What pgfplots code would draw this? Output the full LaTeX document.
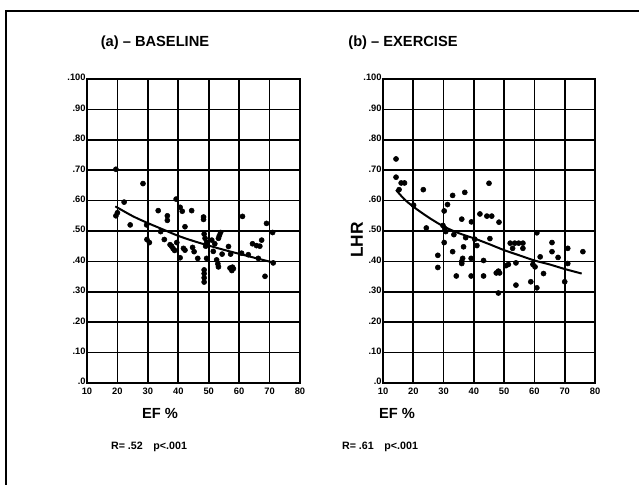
\documentclass[border=0pt]{standalone}
\usepackage{pgfplots}
\pgfplotsset{compat=1.18}
\usepackage{fontspec}
\setmainfont{Liberation Sans}

% left panel: baseline
\pgfplotstableread{
ef lhr
19.5 0.703
28.4 0.656
22.2 0.595
19.5 0.550
20.0 0.560
24.2 0.520
29.6 0.520
33.4 0.567
36.4 0.550
36.4 0.535
39.3 0.605
40.6 0.578
41.3 0.565
44.4 0.567
42.2 0.514
34.2 0.498
48.3 0.546
48.3 0.538
48.5 0.490
53.9 0.495
53.5 0.485
53.2 0.476
61.1 0.548
69.0 0.525
71.0 0.495
29.7 0.472
30.5 0.462
35.4 0.472
37.3 0.455
37.8 0.450
38.3 0.442
38.8 0.436
39.5 0.462
40.6 0.412
41.7 0.443
42.2 0.437
44.7 0.446
45.2 0.432
46.4 0.410
48.8 0.476
49.0 0.450
49.3 0.463
48.5 0.372
48.5 0.360
48.5 0.346
48.5 0.332
49.3 0.410
51.5 0.433
52.6 0.405
53.0 0.392
53.2 0.382
51.0 0.470
52.0 0.458
54.4 0.424
56.5 0.449
57.2 0.424
57.0 0.378
57.8 0.381
58.1 0.376
57.6 0.370
60.8 0.427
63.0 0.422
64.4 0.458
65.7 0.452
66.8 0.450
67.4 0.470
66.3 0.410
68.5 0.351
71.2 0.395
}\baseline

% right panel: exercise
\pgfplotstableread{
ef lhr
14.3 0.737
14.3 0.677
16.0 0.658
17.1 0.658
15.3 0.636
23.3 0.636
20.1 0.585
33.0 0.617
37.0 0.627
45.0 0.657
31.3 0.587
30.2 0.566
36.0 0.539
39.2 0.530
42.0 0.556
44.3 0.549
45.9 0.549
48.3 0.529
24.3 0.510
29.8 0.518
30.4 0.508
30.7 0.498
33.4 0.488
37.3 0.478
40.3 0.473
45.3 0.475
30.2 0.462
33.0 0.432
28.1 0.420
28.1 0.380
34.2 0.352
36.0 0.400
36.0 0.393
36.3 0.410
36.6 0.448
39.1 0.410
39.1 0.352
41.0 0.452
43.2 0.403
43.2 0.352
47.4 0.362
48.1 0.368
48.5 0.362
48.1 0.296
50.6 0.386
51.4 0.390
52.0 0.460
53.5 0.460
54.8 0.460
56.2 0.460
52.8 0.443
56.2 0.443
53.9 0.395
53.9 0.322
58.8 0.333
59.5 0.390
60.2 0.382
60.8 0.313
60.8 0.494
61.9 0.415
63.0 0.360
65.8 0.462
65.8 0.432
67.8 0.413
70.0 0.333
71.0 0.443
71.0 0.393
76.0 0.432
}\exercise

\pgfplotsset{
  panel/.style={
    scale only axis,
    anchor=south west,
    xmin=10, xmax=80, ymin=0, ymax=1,
    xtick={10,20,...,80},
    ytick={0,0.1,0.2,0.3,0.4,0.5,0.6,0.7,0.8,0.9,1},
    yticklabels={.0,.10,.20,.30,.40,.50,.60,.70,.80,.90,.100},
    xmajorgrids, ymajorgrids,
    grid style={black, line width=1.2pt},
    major grid style={black, line width=1.2pt},
    axis line style={line width=1.3pt},
    major tick length=0pt,
    tick label style={font=\fontsize{7}{8}\selectfont\bfseries},
    /pgf/number format/assume math mode=true,
    xticklabel style={yshift=-0.5pt},
    yticklabel style={xshift=2.5pt, yshift=1pt},
  },
  dots/.style={only marks, mark=*, mark size=1.9pt, black},
  fit/.style={no marks, black, line width=1.5pt, smooth},
}

\begin{document}
\begin{tikzpicture}
\path[use as bounding box] (0pt,0pt) rectangle (479.25pt,363.75pt);

\begin{axis}[panel, at={(65.25pt,76.5pt)}, width=159.75pt, height=228pt]
\addplot[dots] table[x=ef, y=lhr] {\baseline};
\addplot[fit] coordinates {(19.3,0.581)(25,0.549)(30,0.526)(35,0.505)(40,0.484)(45,0.467)(50,0.452)(55,0.438)(60,0.425)(65,0.412)(71,0.397)};
\end{axis}

\begin{axis}[panel, at={(287.25pt,76.5pt)}, width=159pt, height=228pt]
\addplot[dots] table[x=ef, y=lhr] {\exercise};
\addplot[fit] coordinates {(14.3,0.635)(17,0.605)(20,0.580)(25,0.545)(30,0.515)(35,0.493)(40,0.476)(45,0.457)(50,0.437)(55,0.420)(60,0.403)(65,0.390)(70,0.375)(75.6,0.360)};
\end{axis}

\begin{scope}[x=0.75pt,y=0.75pt]
\draw[line width=1.1pt] (6,0) -- (6,474) -- (639,474);
\node[font=\fontsize{11}{13}\selectfont\bfseries] at (155,442) {(a) -- BASELINE};
\node[font=\fontsize{11}{13}\selectfont\bfseries] at (403,442) {(b) -- EXERCISE};
\node[font=\fontsize{11}{13}\selectfont\bfseries] at (160,72) {EF \%};
\node[font=\fontsize{11}{13}\selectfont\bfseries] at (397,72) {EF \%};
\node[font=\fontsize{8}{10}\selectfont\bfseries] at (149,38) {R= .52\quad p<.001};
\node[font=\fontsize{8}{10}\selectfont\bfseries] at (380,38) {R= .61\quad p<.001};
\node[font=\fontsize{13}{15}\selectfont\bfseries, rotate=90] at (357,245) {LHR};
\end{scope}
\end{tikzpicture}
\end{document}
